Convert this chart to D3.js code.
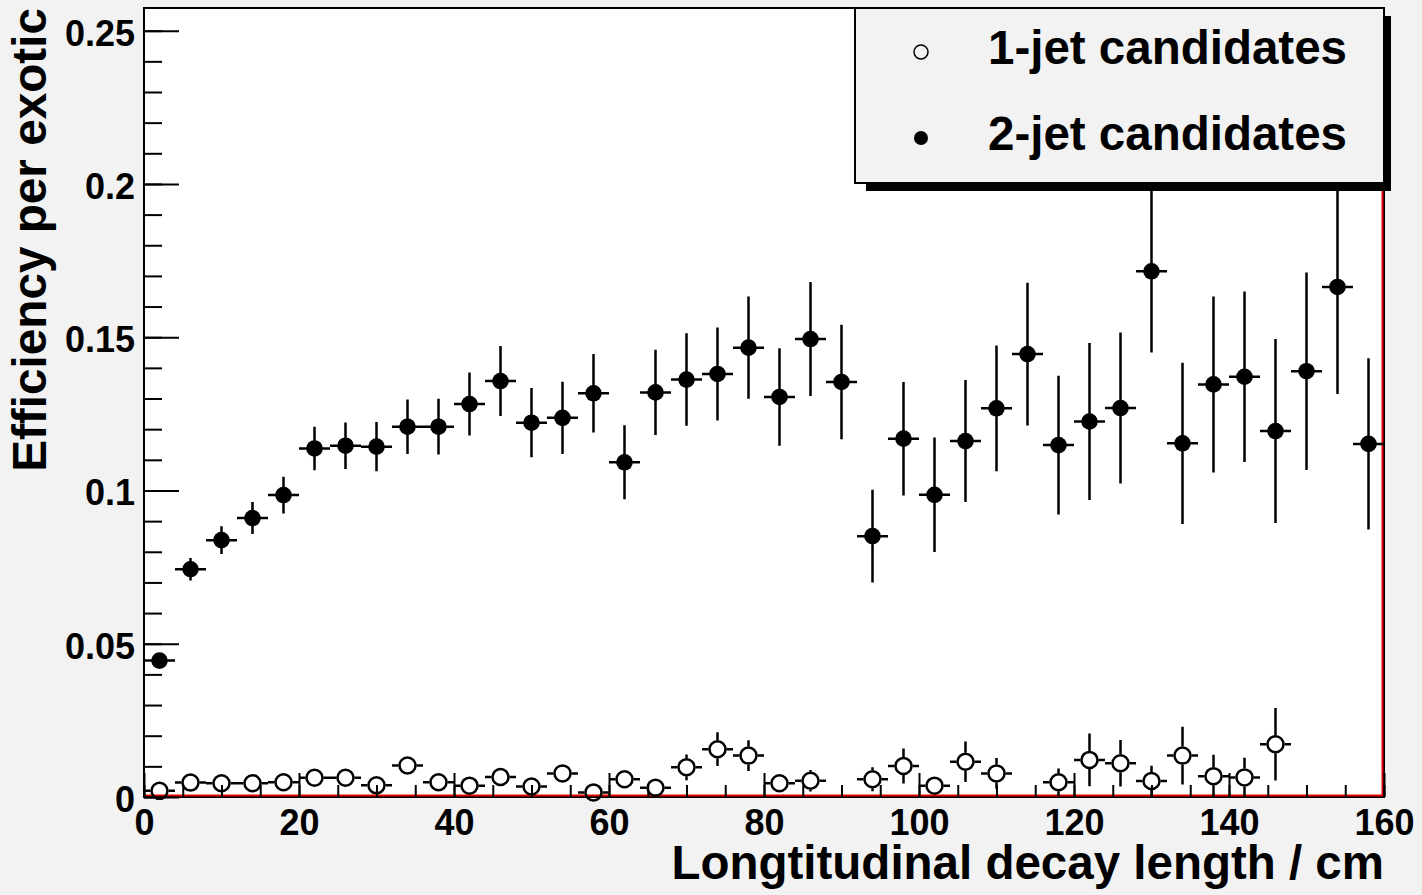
<!DOCTYPE html>
<html>
<head>
<meta charset="utf-8">
<script src="https://cdn.jsdelivr.net/npm/d3@7"></script>
<style>
  body { margin: 0; background: #f2f2f2; }
  text { font-family: "Liberation Sans", Arial, Helvetica, sans-serif; font-weight: bold; }
</style>
</head>
<body>
<script>
// bin centres (cm), bin width 4 cm
const binCenters = [2, 6, 10, 14, 18, 22, 26, 30, 34, 38, 42, 46, 50, 54, 58, 62, 66, 70, 74, 78,
    82, 86, 90, 94, 98, 102, 106, 110, 114, 118, 122, 126, 130, 134, 138, 142, 146, 150, 154, 158];
const binHalfWidth = 2;

const twoJet = [0.0445, 0.0743, 0.0838, 0.0910, 0.0985, 0.1137, 0.1146, 0.1143, 0.1208, 0.1208,
    0.1282, 0.1357, 0.1221, 0.1237, 0.1317, 0.1092, 0.1320, 0.1362, 0.1380, 0.1466,
    0.1305, 0.1494, 0.1354, 0.0851, 0.1169, 0.0986, 0.1161, 0.1268, 0.1445, 0.1148,
    0.1225, 0.1269, 0.1715, 0.1154, 0.1346, 0.1371, 0.1194, 0.1389, 0.1664, 0.1152];
const twoJetErr = [0.001, 0.0037, 0.0045, 0.0052, 0.0060, 0.0071, 0.0076, 0.0080, 0.0089, 0.0091,
    0.0103, 0.0114, 0.0113, 0.0118, 0.0128, 0.0121, 0.0139, 0.0151, 0.0152, 0.0167,
    0.0159, 0.0186, 0.0187, 0.0151, 0.0185, 0.0187, 0.0199, 0.0205, 0.0233, 0.0226,
    0.0256, 0.0246, 0.0265, 0.0263, 0.0287, 0.0278, 0.0300, 0.0322, 0.0349, 0.0279];

// null = empty bin (not drawn)
const oneJet = [0.0020, 0.0047, 0.0045, 0.0045, 0.0048, 0.0063, 0.0063, 0.0038, 0.0103, 0.0048,
    0.0037, 0.0065, 0.0034, 0.0077, 0.0015, 0.0058, 0.0030, 0.0097, 0.0156, 0.0135,
    0.0045, 0.0053, null, 0.0058, 0.0101, 0.0037, 0.0115, 0.0077, null, 0.0048,
    0.0121, 0.0110, 0.0052, 0.0135, 0.0068, 0.0064, 0.0172, null, null, null];
const oneJetErr = [0.001, 0.0015, 0.0015, 0.0015, 0.0016, 0.0020, 0.0020, 0.0018, 0.0027, 0.0020,
    0.0020, 0.0025, 0.0020, 0.0027, 0.0015, 0.0025, 0.0020, 0.0042, 0.0055, 0.0050,
    0.0025, 0.0035, null, 0.0039, 0.0057, 0.0025, 0.0066, 0.0050, null, 0.0045,
    0.0086, 0.0076, 0.0050, 0.0094, 0.0070, 0.0064, 0.0118, null, null, null];

const xTicks = [0, 20, 40, 60, 80, 100, 120, 140, 160];
const yTicks = [0, 0.05, 0.1, 0.15, 0.2, 0.25];
const yTickLabels = ['0', '0.05', '0.1', '0.15', '0.2', '0.25'];
const legendLabels = ['1-jet candidates', '2-jet candidates'];

const W = 1422, H = 895;
const padL = 144, padR = 1384, padT = 8, padB = 797;

let svg = d3.select('body').append('svg')
    .attr('width', W)
    .attr('height', H);

let x = d3.scaleLinear().domain([0, 160]).range([padL, padR]);
let y = d3.scaleLinear().domain([0, 0.2574]).range([padB, padT]);

// frame
svg.append('rect')
    .attr('x', padL).attr('y', padT)
    .attr('width', padR - padL).attr('height', padB - padT)
    .attr('fill', 'white')
    .attr('stroke', 'black')
    .attr('stroke-width', 2);

// red empty-histogram outline
svg.append('path')
    .attr('d', `M${padL},${padB - 1.5}H${padR - 1.5}V${padT}`)
    .attr('fill', 'none')
    .attr('stroke', '#e00000')
    .attr('stroke-width', 2);

// axes
function styleAxis(g) {
    g.select('.domain').remove();
    g.selectAll('line').attr('stroke', 'black').attr('stroke-width', 2);
    g.selectAll('text').attr('fill', 'black').style('font-size', '36px');
}

svg.append('g')
    .attr('transform', `translate(0,${padB})`)
    .call(d3.axisBottom(x).tickValues(x.ticks(32)).tickSizeInner(-12).tickSizeOuter(0).tickFormat(''))
    .call(styleAxis);
svg.append('g')
    .attr('transform', `translate(0,${padB})`)
    .call(d3.axisBottom(x).tickValues(xTicks).tickSizeInner(-24).tickSizeOuter(0).tickPadding(12).tickFormat(d3.format('d')))
    .call(styleAxis);

svg.append('g')
    .attr('transform', `translate(${padL},0)`)
    .call(d3.axisLeft(y).tickValues(d3.range(0, 0.2574, 0.01)).tickSizeInner(-18).tickSizeOuter(0).tickFormat(''))
    .call(styleAxis);
let yAxis = svg.append('g')
    .attr('transform', `translate(${padL},0)`)
    .call(d3.axisLeft(y).tickValues(yTicks).tickSizeInner(-35).tickSizeOuter(0).tickPadding(9)
        .tickFormat((d, i) => yTickLabels[i]))
    .call(styleAxis);
yAxis.selectAll('text').attr('dy', '0.40em');

// axis titles
svg.append('text')
    .attr('x', padR).attr('y', 879)
    .attr('text-anchor', 'end')
    .style('font-size', '47.5px')
    .text('Longtitudinal decay length / cm');
svg.append('text')
    .attr('transform', `translate(46,${padT}) rotate(-90)`)
    .attr('text-anchor', 'end')
    .style('font-size', '47.7px')
    .text('Efficiency per exotic');

// data
let rFill = 8.3, rOpen = 8;
let plot = svg.append('g');

let twoData = binCenters.map((c, i) => ({c: c, v: twoJet[i], e: twoJetErr[i]}));
let oneData = binCenters.map((c, i) => ({c: c, v: oneJet[i], e: oneJetErr[i]}))
    .filter(d => d.v !== null);

function errorPath(d, gap) {
    let cx = x(d.c), cy = y(d.v);
    let p = '';
    let x0 = x(d.c - binHalfWidth), x1 = x(d.c + binHalfWidth);
    if (cx - gap > x0) p += `M${x0},${cy}H${cx - gap}`;
    if (x1 > cx + gap) p += `M${cx + gap},${cy}H${x1}`;
    let yt = y(d.v + d.e), yb = y(Math.max(0, d.v - d.e));
    if (yt < cy - gap) p += `M${cx},${yt}V${cy - gap}`;
    if (yb > cy + gap) p += `M${cx},${cy + gap}V${yb}`;
    return p;
}

plot.selectAll('path.err1')
    .data(oneData)
    .enter()
    .append('path')
    .attr('class', 'err1')
    .attr('d', d => errorPath(d, rOpen + 1))
    .attr('stroke', 'black')
    .attr('stroke-width', 2.5)
    .attr('fill', 'none');
plot.selectAll('circle.m1')
    .data(oneData)
    .enter()
    .append('circle')
    .attr('class', 'm1')
    .attr('cx', d => x(d.c))
    .attr('cy', d => y(d.v))
    .attr('r', rOpen)
    .attr('fill', 'none')
    .attr('stroke', 'black')
    .attr('stroke-width', 2.5);

plot.selectAll('path.err2')
    .data(twoData)
    .enter()
    .append('path')
    .attr('class', 'err2')
    .attr('d', d => errorPath(d, 0))
    .attr('stroke', 'black')
    .attr('stroke-width', 2.5)
    .attr('fill', 'none');
plot.selectAll('circle.m2')
    .data(twoData)
    .enter()
    .append('circle')
    .attr('class', 'm2')
    .attr('cx', d => x(d.c))
    .attr('cy', d => y(d.v))
    .attr('r', rFill)
    .attr('fill', 'black');

// legend
let legend = svg.append('g');
legend.append('rect')
    .attr('x', 866).attr('y', 16)
    .attr('width', 525).attr('height', 175)
    .attr('fill', 'black');
legend.append('rect')
    .attr('x', 855).attr('y', 8)
    .attr('width', 529).attr('height', 175)
    .attr('fill', '#f2f2f2')
    .attr('stroke', 'black')
    .attr('stroke-width', 2);
legend.selectAll('text.lab')
    .data(legendLabels)
    .enter()
    .append('text')
    .attr('class', 'lab')
    .attr('x', 988)
    .attr('y', (d, i) => 64 + i * 86)
    .style('font-size', '47.5px')
    .text(d => d);
legend.append('circle')
    .attr('cx', 921).attr('cy', 52).attr('r', 7)
    .attr('fill', 'none').attr('stroke', 'black').attr('stroke-width', 1.5);
legend.append('circle')
    .attr('cx', 921).attr('cy', 138).attr('r', 7)
    .attr('fill', 'black');
</script>
</body>
</html>
